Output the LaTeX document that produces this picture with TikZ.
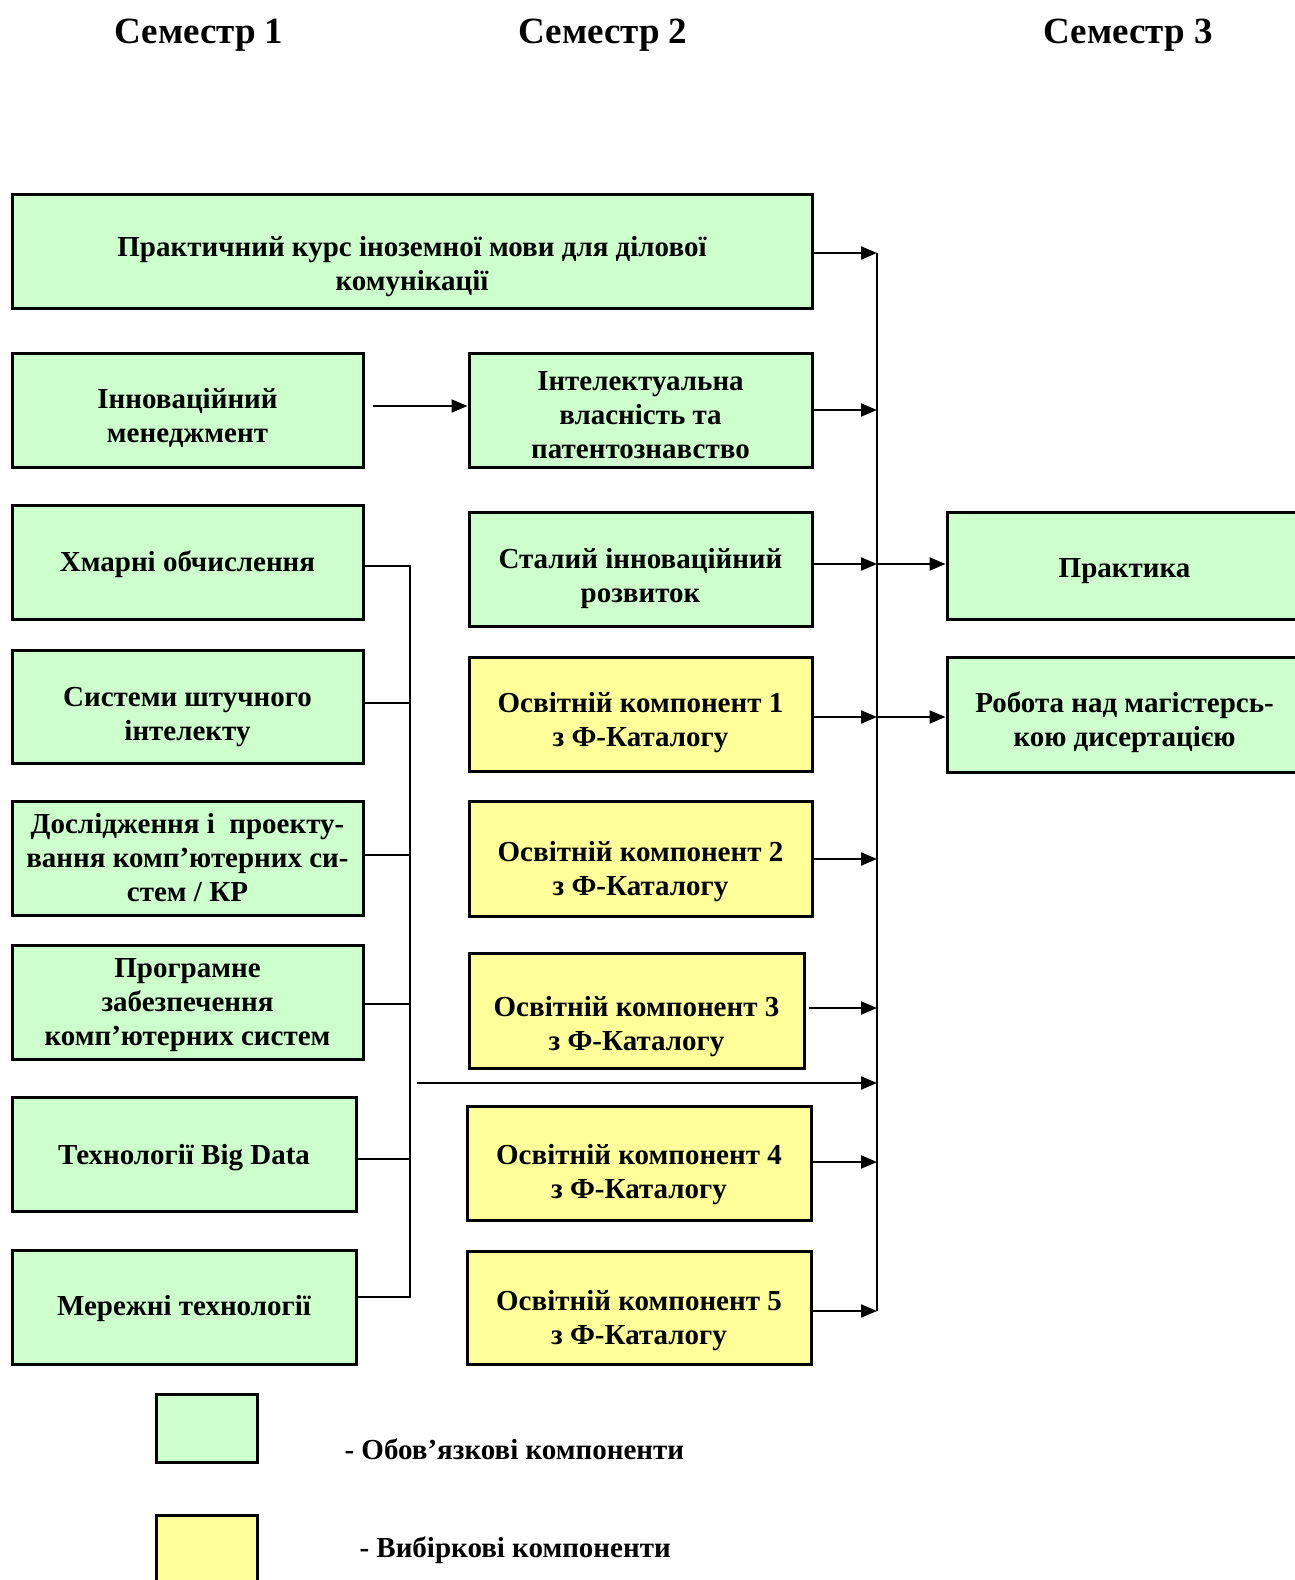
\documentclass[tikz,border=0pt]{standalone}
\usepackage{fontspec}
\setmainfont{Liberation Serif}
\usetikzlibrary{arrows.meta,calc}
\definecolor{gfill}{HTML}{CCFFCC}
\definecolor{yfill}{HTML}{FFFF99}
\begin{document}
\begin{tikzpicture}[x=1pt,y=-1pt,
 box/.style={draw=black,line width=3pt,inner sep=0pt},
 gbox/.style={box,fill=gfill},
 ybox/.style={box,fill=yfill},
 txt/.style={align=center,font=\bfseries\fontsize{29}{34}\selectfont,inner sep=0pt},
 arr/.style={line width=2pt,-{Triangle[length=16pt,width=13pt]}},
 tickline/.style={line width=1.5pt},
 head/.style={font=\bfseries\fontsize{37}{40}\selectfont},
 legtext/.style={font=\bfseries\fontsize{29}{34}\selectfont,anchor=west}]
\useasboundingbox (0,0) rectangle (1294,1580);
% headings
\node[head] (s1) at (199,35) {Семестр 1};
\node[head] (s2) at (603,35) {Семестр 2};
\node[head] (s3) at (1128,35) {Семестр 3};
% boxes
\node[gbox,minimum width=800pt,minimum height=114pt] (A) at (412,251) {};
\node[gbox,minimum width=351pt,minimum height=114pt] (B) at (187.5,410) {};
\node[gbox,minimum width=343pt,minimum height=114pt] (C) at (640.5,410) {};
\node[gbox,minimum width=351pt,minimum height=114pt] (D) at (187.5,562) {};
\node[gbox,minimum width=343pt,minimum height=114pt] (E) at (640.5,569) {};
\node[gbox,minimum width=355pt,minimum height=107pt] (F) at (1124.5,565.5) {};
\node[gbox,minimum width=351pt,minimum height=113pt] (G) at (187.5,706.5) {};
\node[ybox,minimum width=343pt,minimum height=114pt] (H) at (640.5,714) {};
\node[gbox,minimum width=355pt,minimum height=115pt] (I) at (1124.5,714.5) {};
\node[gbox,minimum width=351pt,minimum height=114pt] (J) at (187.5,858) {};
\node[ybox,minimum width=343pt,minimum height=115pt] (K) at (640.5,858.5) {};
\node[gbox,minimum width=351pt,minimum height=114pt] (L) at (187.5,1002) {};
\node[ybox,minimum width=335pt,minimum height=115pt] (M) at (636.5,1010.5) {};
\node[gbox,minimum width=344pt,minimum height=114pt] (N) at (184,1154) {};
\node[ybox,minimum width=344pt,minimum height=114pt] (O) at (639,1163) {};
\node[gbox,minimum width=344pt,minimum height=114pt] (P) at (184,1307) {};
\node[ybox,minimum width=344pt,minimum height=113pt] (Q) at (639,1307.5) {};
% texts
\node[txt] (At) at ($(A)+(0,16)$) {Практичний курс іноземної мови для ділової\\комунікації};
\node[txt] (Bt) at ($(B)+(0,8)$) {Інноваційний\\менеджмент};
\node[txt] (Ct) at ($(C)+(0,5)$) {Інтелектуальна\\власність та\\патентознавство};
\node[txt] (Dt) at ($(D)+(0,2)$) {Хмарні обчислення};
\node[txt] (Et) at ($(E)+(0,10)$) {Сталий інноваційний\\розвиток};
\node[txt] (Ft) at ($(F)+(0,6)$) {Практика};
\node[txt] (Gt) at ($(G)+(0,11)$) {Системи штучного\\інтелекту};
\node[txt] (Ht) at ($(H)+(0,9)$) {Освітній компонент 1\\з Ф-Каталогу};
\node[txt] (It) at ($(I)+(0,8)$) {Робота над магістерсь-\\кою дисертацією};
\node[txt] (Jt) at ($(J)+(0,0)$) {Дослідження і~~проекту-\\вання комп’ютерних си-\\стем / КР};
\node[txt] (Kt) at ($(K)+(0,13)$) {Освітній компонент 2\\з Ф-Каталогу};
\node[txt] (Lt) at ($(L)+(0,3)$) {Програмне\\забезпечення\\комп’ютерних систем};
\node[txt] (Mt) at ($(M)+(0,16)$) {Освітній компонент 3\\з Ф-Каталогу};
\node[txt] (Nt) at ($(N)+(0,4)$) {Технології Big Data};
\node[txt] (Ot) at ($(O)+(0,12)$) {Освітній компонент 4\\з Ф-Каталогу};
\node[txt] (Pt) at ($(P)+(0,2)$) {Мережні технології};
\node[txt] (Qt) at ($(Q)+(0,13)$) {Освітній компонент 5\\з Ф-Каталогу};
% bus coordinates
\coordinate (bA) at (877,253);
\coordinate (bC) at (877,410);
\coordinate (bE) at (877,564);
\coordinate (bH) at (877,717);
\coordinate (bK) at (877,859);
\coordinate (bM) at (877,1008);
\coordinate (bL) at (877,1083);
\coordinate (bO) at (877,1162);
\coordinate (bQ) at (877,1311);
\draw[line width=2pt] (bA) -- (bQ);
\draw[arr] (A.east |- bA) -- (bA);
\draw[arr] (C.east |- bC) -- (bC);
\draw[arr] (E.east |- bE) -- (bE);
\draw[arr] (H.east |- bH) -- (bH);
\draw[arr] (K.east |- bK) -- (bK);
\draw[arr] ([xshift=3pt]M.east |- bM) -- (bM);
\draw[arr] (O.east |- bO) -- (bO);
\draw[arr] (Q.east |- bQ) -- (bQ);
\draw[arr] (bE) -- (F.west |- bE);
\draw[arr] (bH) -- (I.west |- bH);
% Innovation -> IP
\draw[arr,shorten <=8pt] (B.east |- 0,406) -- (C.west |- 0,406);
% bracket
\coordinate (tD) at (410,566);
\coordinate (tG) at (410,703);
\coordinate (tJ) at (410,855);
\coordinate (tL) at (410,1004);
\coordinate (tN) at (410,1159);
\coordinate (tP) at (410,1297);
\draw[tickline] (D.east |- tD) -- (tD) -- (tP) -- (P.east |- tP);
\draw[tickline] (G.east |- tG) -- (tG);
\draw[tickline] (J.east |- tJ) -- (tJ);
\draw[tickline] (L.east |- tL) -- (tL);
\draw[tickline] (N.east |- tN) -- (tN);
\coordinate (lS) at (417,1083);
\draw[arr] (lS) -- (bL);
% legend
\node[gbox,minimum width=101pt,minimum height=68pt] (lg) at (206.5,1428) {};
\node[ybox,minimum width=101pt,minimum height=100pt] (ly) at (206.5,1565) {};
\node[legtext] (lgt) at (341,1449) {- Обов’язкові компоненти};
\node[legtext] (lyt) at (356,1550) {- Вибіркові компоненти};
\end{tikzpicture}
\end{document}
